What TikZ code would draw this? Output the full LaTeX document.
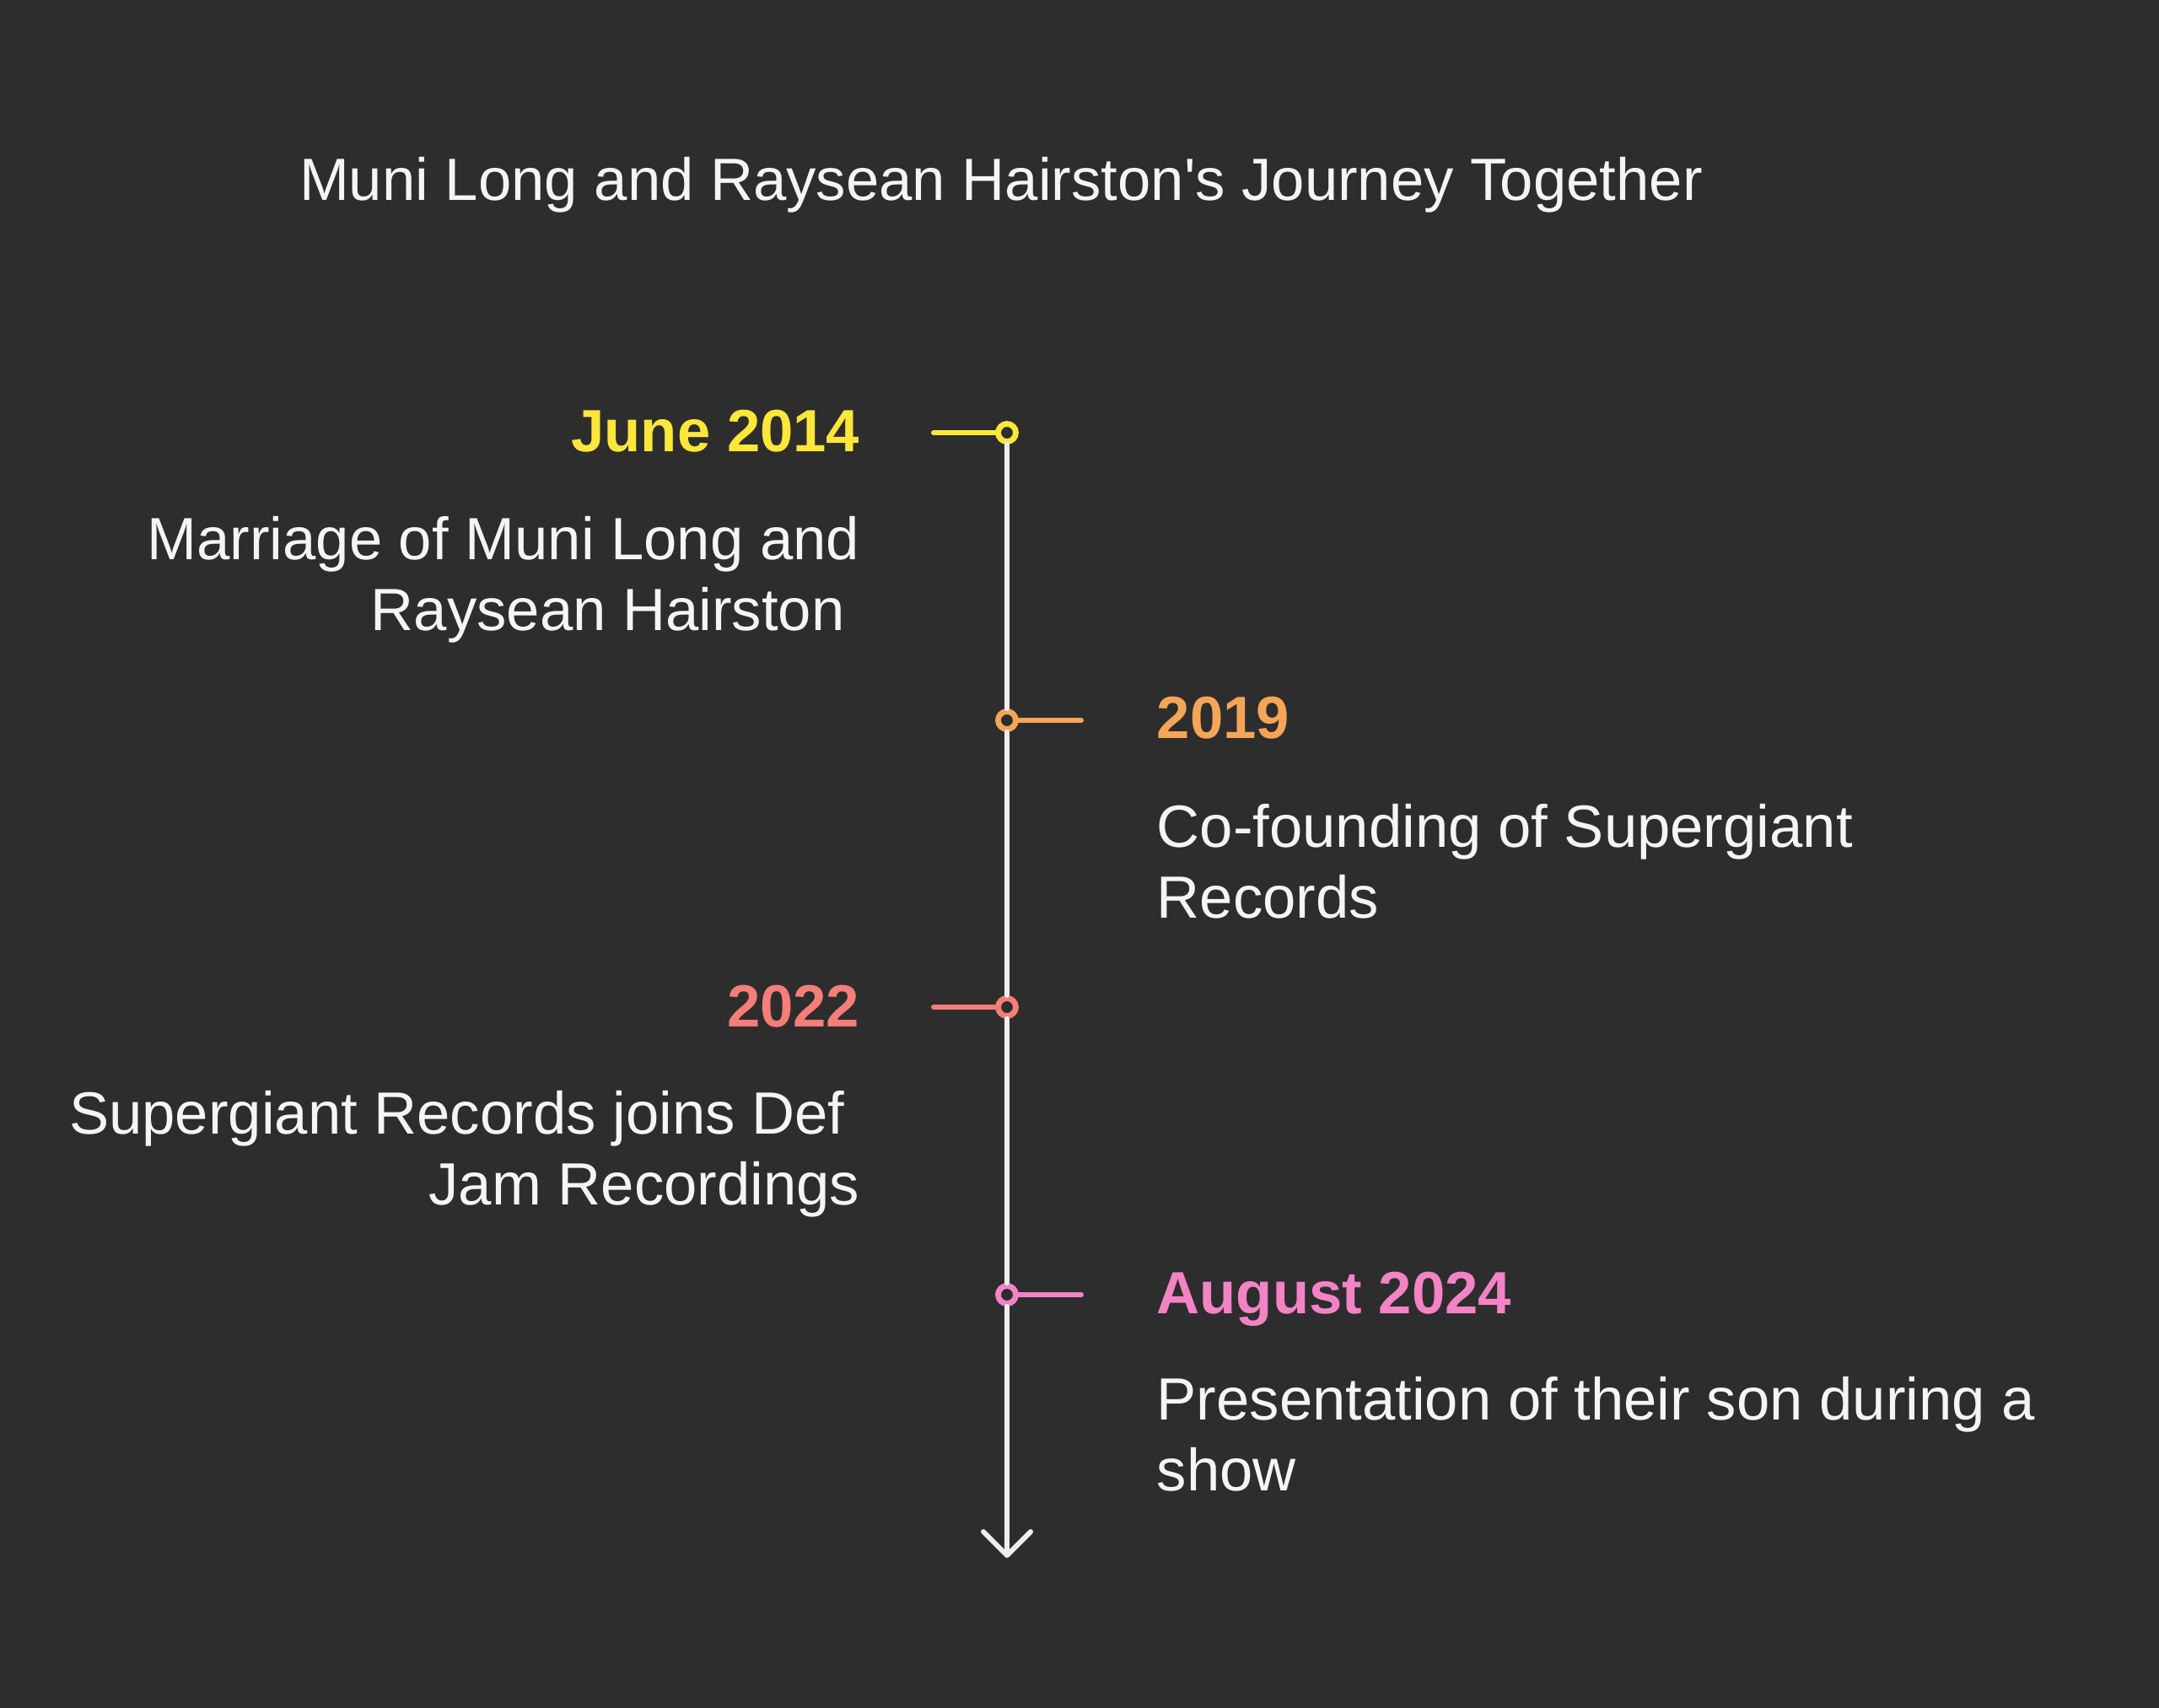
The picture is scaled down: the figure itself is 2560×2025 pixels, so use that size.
\documentclass[tikz,border=0pt]{standalone}
\usepackage{fontspec}
\setmainfont{Liberation Sans}
\usetikzlibrary{positioning}
\usetikzlibrary{arrows.meta}
\usepackage{xcolor}

\definecolor{bgdark}{HTML}{2D2D2D}
\definecolor{txtwhite}{HTML}{F5F5F5}
\definecolor{axisgray}{HTML}{EEEEEE}
\definecolor{cyellow}{HTML}{FDE73A}
\definecolor{corange}{HTML}{F6A558}
\definecolor{csalmon}{HTML}{F67E78}
\definecolor{cpink}{HTML}{F483C6}

\tikzset{
  eventdot/.style={draw=#1, circle, line width=0.068cm, minimum size=0.21cm, inner sep=0pt, fill=bgdark},
  stub/.style={draw=#1, line width=0.06cm, line cap=round},
  datelabel/.style={text=#1, inner sep=0pt, font=\fontsize{20.1pt}{23.9pt}\selectfont\bfseries},
  eventtext/.style={text=txtwhite, inner sep=0pt, font=\fontsize{20.1pt}{23.9pt}\selectfont},
  axisline/.style={draw=axisgray, line width=0.06cm, line cap=round}
}

\begin{document}
\begin{tikzpicture}[x=0.01cm, y=-0.01cm]
            \fill[bgdark] (0,0) rectangle (2560,2025);
            \useasboundingbox (0,0) rectangle (2560,2025);

            \node[eventtext, anchor=base] (title) at (1187,238) {Muni Long and Raysean Hairston\textquotesingle s Journey Together};

            \node[eventdot=cyellow] (d1) at (1194,513) {};
            \node[eventdot=corange] (d2) at (1194,854) {};
            \node[eventdot=csalmon] (d3) at (1194,1194) {};
            \node[eventdot=cpink] (d4) at (1194,1535) {};
            \coordinate (s1) at (1107,513);
            \coordinate (s2) at (1282,854);
            \coordinate (s3) at (1107,1194);
            \coordinate (s4) at (1282,1535);
            \coordinate (tip) at (1194,1847);

            \draw[axisline] (d1) -- (d2);
            \draw[axisline] (d2) -- (d3);
            \draw[axisline] (d3) -- (d4);
            \draw[axisline, -{Straight Barb[length=0.28cm, width=0.56cm, line cap=round, line join=round]}] (d4) -- (tip);

            \draw[stub=cyellow] (d1) -- (s1);
            \draw[stub=corange] (d2) -- (s2);
            \draw[stub=csalmon] (d3) -- (s3);
            \draw[stub=cpink] (d4) -- (s4);

            \node[datelabel=cyellow, anchor=base east] (date1) at (1020,536) {June 2014};
            \node[eventtext, align=right, anchor=north east] (text1) at (1020,604) {\strut Marriage of Muni Long and\\Raysean Hairston\hspace*{0.25em}};

            \node[datelabel=corange, anchor=base west] (date2) at (1371,876) {2019};
            \node[eventtext, align=left, anchor=north west] (text2) at (1371,945) {\strut Co-founding of Supergiant\\Records};

            \node[datelabel=csalmon, anchor=base east] (date3) at (1020,1217) {2022};
            \node[eventtext, align=right, anchor=north east] (text3) at (1020,1285) {\strut Supergiant Records joins Def\hspace*{0.25em}\\Jam Recordings};

            \node[datelabel=cpink, anchor=base west] (date4) at (1371,1557) {August 2024};
            \node[eventtext, align=left, anchor=north west] (text4) at (1371,1624) {\strut Presentation of their son during a\\show};
        \end{tikzpicture}
\end{document}
